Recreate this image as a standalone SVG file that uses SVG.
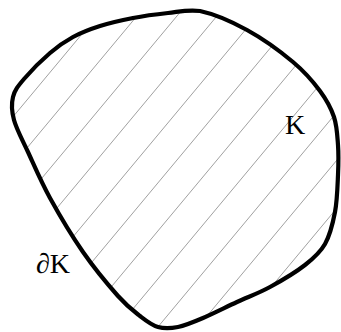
<svg xmlns="http://www.w3.org/2000/svg" xmlns:xlink="http://www.w3.org/1999/xlink" width="341" height="332" viewBox="0 0 341 332">
<style>
.hatch{stroke:#a0a0a0;stroke-width:1;fill:none}
.outline{fill:none;stroke:#000;stroke-width:4.2;stroke-linejoin:round}
.lbl{font-family:"Liberation Serif","Times New Roman",serif;font-size:28px;fill:#000}
</style>
<defs>
<path id="shape" d="M200,11 C213.2,13.8 231.5,21.5 247,30 C262.5,38.5 280.8,51.8 293,62 C305.2,72.2 313.2,81.8 320,91 C326.8,100.2 331,108 334,117 C337,126 337.3,135.3 338,145 C338.7,154.7 338.5,163.8 338,175 C337.5,186.2 337.2,200.5 335,212 C332.8,223.5 330,235.2 325,244 C320,252.8 314.2,257.8 305,265 C295.8,272.2 281.3,280.8 270,287 C258.7,293.2 248.2,296.8 237,302 C225.8,307.2 212.8,313.8 203,318 C193.2,322.2 185.5,325.5 178,327 C170.5,328.5 164.3,328.8 158,327 C151.7,325.2 146.7,321.2 140,316 C133.3,310.8 127.5,306.7 118,296 C108.5,285.3 94.3,268.3 83,252 C71.7,235.7 59.2,214.7 50,198 C40.8,181.3 34,165 28,152 C22,139 16.5,129.2 14,120 C11.5,110.8 11.3,103.8 13,97 C14.7,90.2 17.8,86.3 24,79 C30.2,71.7 41.8,60 50,53 C58.2,46 64.7,41.5 73,37 C81.3,32.5 90,29.2 100,26 C110,22.8 121.7,20.2 133,18 C144.3,15.8 156.8,14.2 168,13 C179.2,11.8 186.8,9.5 200,11 Z"/>
<clipPath id="clip"><use xlink:href="#shape"/></clipPath>
</defs>
<g id="hatching" clip-path="url(#clip)">
<line class="hatch" x1="110.3" y1="0" x2="-166.3" y2="332"/>
<line class="hatch" x1="150.3" y1="0" x2="-126.3" y2="332"/>
<line class="hatch" x1="190.3" y1="0" x2="-86.3" y2="332"/>
<line class="hatch" x1="230.3" y1="0" x2="-46.3" y2="332"/>
<line class="hatch" x1="270.3" y1="0" x2="-6.3" y2="332"/>
<line class="hatch" x1="310.3" y1="0" x2="33.7" y2="332"/>
<line class="hatch" x1="350.3" y1="0" x2="73.7" y2="332"/>
<line class="hatch" x1="390.3" y1="0" x2="113.7" y2="332"/>
<line class="hatch" x1="430.3" y1="0" x2="153.7" y2="332"/>
<line class="hatch" x1="470.3" y1="0" x2="193.7" y2="332"/>
<line class="hatch" x1="510.3" y1="0" x2="233.7" y2="332"/>
</g>
<g id="region-K">
<use xlink:href="#shape" class="outline"/>
</g>
<g id="labels">
<text class="lbl" x="285" y="134">K</text>
<text class="lbl" x="36" y="273">∂K</text>
</g>
</svg>
